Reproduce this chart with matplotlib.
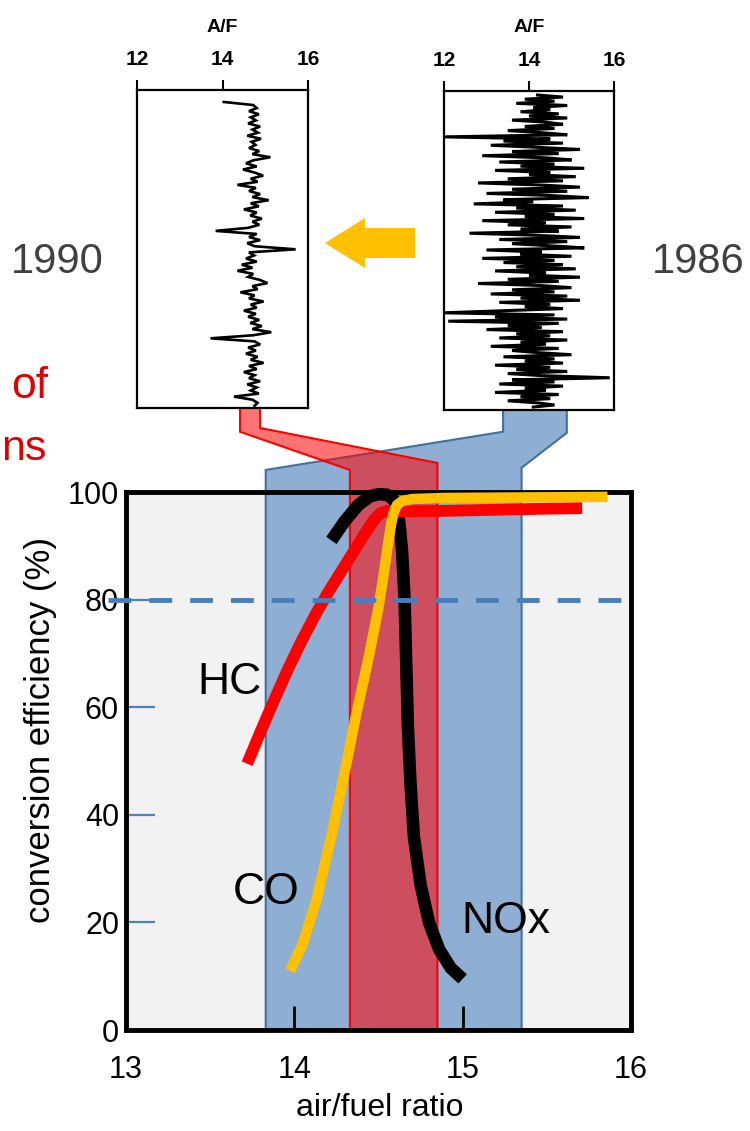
import numpy as np
import matplotlib
matplotlib.use('Agg')
import matplotlib.pyplot as plt
from matplotlib.patches import Polygon

plt.rcParams['font.family'] = ['Liberation Sans', 'DejaVu Sans']

# ---------------- data ----------------
hc_x = [13.72, 13.80, 13.88, 13.96, 14.04, 14.12, 14.20, 14.28, 14.35, 14.42, 14.47, 14.51, 14.55, 14.60, 14.70, 14.90, 15.20, 15.50, 15.71]
hc_y = [49.5, 55.5, 61.3, 66.9, 72.1, 76.9, 81.3, 85.3, 88.8, 92.3, 94.7, 96.0, 96.5, 96.4, 96.4, 96.5, 96.7, 96.9, 97.0]

co_x = [13.975, 14.05, 14.13, 14.22, 14.30, 14.37, 14.44, 14.50, 14.53, 14.555, 14.575, 14.59, 14.61, 14.64, 14.70, 14.90, 15.40, 15.86]
co_y = [11.0, 16.0, 24.0, 36.0, 48.0, 59.0, 69.0, 78.5, 84.5, 90.0, 94.0, 96.2, 97.6, 98.3, 98.7, 98.9, 99.0, 99.1]

nox_x = [14.22, 14.30, 14.38, 14.45, 14.50, 14.55, 14.59, 14.61, 14.625, 14.64, 14.655, 14.665, 14.675, 14.69, 14.71, 14.75, 14.80, 14.86, 14.93, 15.00]
nox_y = [91.0, 94.6, 97.6, 99.2, 99.6, 99.5, 98.6, 97.0, 94.0, 89.0, 80.0, 68.0, 56.0, 46.0, 36.0, 27.0, 20.0, 15.0, 11.5, 9.5]

blue_band = (13.83, 15.35)   # A/F window 1986
red_band = (14.33, 14.85)    # A/F window 1990
eff_threshold = 80

xticks_main = [13, 14, 15, 16]
yticks_main = [0, 20, 40, 60, 80, 100]
inset_ticks = [12, 14, 16]

# A/F traces (top to bottom)
af_1990 = [14.03, 14.72, 14.80, 14.62, 14.85, 14.66, 14.78, 14.60, 14.88, 14.70,
           14.83, 14.58, 14.90, 14.68, 14.77, 14.62, 14.86, 14.70, 15.12, 14.72,
           14.55, 14.80, 14.48, 14.75, 14.95, 14.66, 14.82, 14.35, 14.78, 14.62,
           14.88, 14.70, 15.08, 14.66, 14.85, 14.50, 14.80, 14.65, 14.92, 14.70,
           14.86, 14.60, 13.84, 14.80, 14.62, 14.88, 14.58, 14.75, 15.71, 14.62,
           14.74, 14.55, 14.80, 14.45, 14.70, 14.35, 14.72, 14.60, 14.88, 15.05,
           14.70, 14.82, 14.42, 14.75, 14.62, 14.96, 14.66, 14.80, 14.50, 14.78,
           14.60, 14.86, 14.65, 14.92, 14.70, 15.14, 14.72, 13.72, 14.75, 14.88,
           14.60, 14.78, 14.55, 14.82, 14.66, 14.96, 14.62, 14.80, 14.50, 14.75,
           14.62, 14.88, 14.58, 14.80, 14.66, 14.85, 14.27, 14.70, 14.82, 14.75]

af_1986 = [14.2, 14.8, 13.9, 14.6, 13.7, 14.9, 14.1, 14.5, 13.8, 14.7,
           14.0, 14.9, 13.6, 14.4, 14.8, 13.9, 14.6, 13.5, 14.3, 14.9,
           12.0,
           14.5, 13.4, 14.8, 13.1, 14.2, 15.2, 13.6, 14.7, 12.9, 14.4,
           15.0, 13.3, 14.6, 13.8, 15.3, 13.2, 14.5, 14.0, 15.1, 13.5,
           14.8, 12.8, 14.3, 15.2, 13.6, 14.9, 13.0, 14.5, 15.4, 13.4,
           14.1, 12.7, 14.8, 13.7, 15.1, 13.2, 14.6, 13.9, 15.3, 12.9,
           14.4, 13.5, 15.0, 13.8, 14.7, 12.6, 14.2, 15.2, 13.3, 14.9,
           13.6, 14.5, 15.3, 13.0, 14.3, 13.8, 15.0, 12.9, 14.6, 13.4,
           14.8, 13.7, 15.1, 13.2, 14.4, 14.0, 15.2, 13.5, 14.7, 12.8,
           14.3, 15.0, 13.6, 14.6, 13.1, 14.9, 13.8, 15.2, 13.3, 14.5,
           13.9, 14.8, 13.4,
           12.0,
           14.6, 13.2, 14.9,
           12.1,
           14.7, 13.5, 14.3, 13.0, 14.8, 13.7, 14.5, 13.3, 14.9, 13.8,
           14.4, 13.1, 14.7, 13.6, 14.2, 15.0, 13.4, 14.6, 13.9, 14.8,
           13.2, 14.5, 13.7, 14.9, 13.5, 14.3,
           15.9,
           13.6, 14.6, 13.3, 14.8, 13.9, 14.4, 13.2, 14.7, 13.8, 14.5,
           13.5, 14.2, 14.6, 14.1]

# connector footprints on the inset A/F axes
conn_1990 = (14.41, 14.88)
conn_1986 = (13.39, 14.89)

# ---------------- figure ----------------
W, H = 750, 1131
fig = plt.figure(figsize=(W / 100, H / 100), dpi=100)


def px_rect(l, t, r, b):
    return [l / W, 1 - b / H, (r - l) / W, (b - t) / H]


ax = fig.add_axes(px_rect(126, 492, 631, 1030))
ax.set_xlim(13, 16)
ax.set_ylim(0, 100)
ax.set_facecolor('#F2F2F2')
for s in ax.spines.values():
    s.set_linewidth(3.5)
    s.set_color('black')
    s.set_zorder(2.5)

ax.set_xticks(xticks_main)
ax.set_yticks(yticks_main)
ax.tick_params(axis='x', direction='in', length=17, width=2, color='black',
               labelsize=22, pad=18)
ax.tick_params(axis='y', direction='in', length=21, width=1.6, color='#4F81BD',
               labelsize=22, pad=5)
ax.set_xlabel('air/fuel ratio', fontsize=23, va='center')
ax.xaxis.set_label_coords(0.503, -0.145)
ax.set_ylabel('conversion efficiency (%)', fontsize=25, va='center')
ax.yaxis.set_label_coords(-0.170, 0.558)

# insets
ins90 = fig.add_axes(px_rect(137, 90, 308, 408))
ins86 = fig.add_axes(px_rect(444, 91, 614, 410))

n90 = len(af_1990)
n86 = len(af_1986)
ins90.plot(af_1990, np.arange(n90), color='black', lw=1.9, solid_joinstyle='miter')
ins90.set_ylim(n90 - 1 + 0.7, -3.9)
ins86.plot(af_1986, np.arange(n86), color='black', lw=2.2, solid_joinstyle='miter')
ins86.set_ylim(n86 - 1 + 1.4, -1.9)

for ins in (ins90, ins86):
    ins.set_xlim(12, 16)
    ins.set_facecolor('white')
    ins.xaxis.tick_top()
    ins.set_xticks(inset_ticks)
    ins.set_yticks([])
    ins.tick_params(axis='x', direction='out', length=7, width=1.5, pad=8,
                    labelsize=15)
    for lab in ins.get_xticklabels():
        lab.set_fontweight('bold')
    for s in ins.spines.values():
        s.set_linewidth(1.6)
    ins.set_xlabel('A/F', fontsize=14, fontweight='bold')
    ins.xaxis.set_label_position('top')

ins90.xaxis.set_label_coords(0.5, (408 - 32) / 318)
ins86.xaxis.set_label_coords(0.5, (410 - 32) / 319)


# connectors (inset footprint -> band on the main axes)
def inset_foot(ins, af):
    d = ins.transData.transform((af, ins.get_ylim()[0]))
    return ax.transData.inverted().transform(d)


r0 = inset_foot(ins90, conn_1990[0])
r1 = inset_foot(ins90, conn_1990[1])
b0 = inset_foot(ins86, conn_1986[0])
b1 = inset_foot(ins86, conn_1986[1])

blue_verts = [(blue_band[0], 0), (blue_band[0], 104.1), (b0[0], 111.2), (b0[0], b0[1]),
              (b1[0], b1[1]), (b1[0], 111.0), (blue_band[1], 104.5), (blue_band[1], 0)]
red_verts = [(r0[0], r0[1]), (r0[0], 111.2), (red_band[0], 104.1), (red_band[0], 0),
             (red_band[1], 0), (red_band[1], 105.4), (r1[0], 111.9), (r1[0], r1[1])]

ax.add_patch(Polygon(blue_verts, closed=True, facecolor='#8FAED3', edgecolor='#41719C',
                     lw=1.5, clip_on=False, zorder=1.0))
ax.add_patch(Polygon(red_verts, closed=True, facecolor=(1, 0, 0, 0.55), edgecolor='#FF0000',
                     lw=1.5, clip_on=False, zorder=1.1))

# curves
ax.plot(nox_x, nox_y, color='black', lw=9, solid_capstyle='butt', solid_joinstyle='round',
        clip_on=False, zorder=3.0)
ax.plot(hc_x, hc_y, color='#FF0000', lw=8.5, solid_capstyle='butt', solid_joinstyle='round',
        clip_on=False, zorder=3.1)
ax.plot(co_x, co_y, color='#FFC000', lw=7.5, solid_capstyle='butt', solid_joinstyle='round',
        clip_on=False, zorder=3.2)

# 80 % line
ax.plot([12.893, 15.95], [eff_threshold, eff_threshold], color='#4A7EBB', lw=3.5,
        dashes=[4.7, 3.7], solid_capstyle='butt', dash_capstyle='butt', clip_on=False, zorder=5)

# curve labels
ax.text(13.612, 64.5, 'HC', fontsize=32, ha='center', va='center', zorder=6)
ax.text(13.832, 25.5, 'CO', fontsize=32, ha='center', va='center', zorder=6)
ax.text(15.258, 20.1, 'NOx', fontsize=32, ha='center', va='center', zorder=6)

# year labels and side text
fig.text(57 / W, 1 - 262 / H, '1990', ha='center', va='center', fontsize=30, color='#404040')
fig.text(745 / W, 1 - 262 / H, '1986', ha='right', va='center', fontsize=30, color='#404040')
fig.text(48 / W, 1 - 387 / H, 'of', ha='right', va='center', fontsize=32, color='#E00000')
fig.text(1 / W, 1 - 449 / H, 'ns', ha='left', va='center', fontsize=31, color='#E00000')

# orange arrow (1986 -> 1990)
arrow_px = [(325, 243), (365, 218), (365, 228), (415, 228), (415, 258), (365, 258), (365, 268)]
arrow_fig = [(x / W, 1 - y / H) for x, y in arrow_px]
fig.add_artist(Polygon(arrow_fig, closed=True, facecolor='#FFC000', edgecolor='none',
                       transform=fig.transFigure))

fig.savefig('out.png', dpi=100)
